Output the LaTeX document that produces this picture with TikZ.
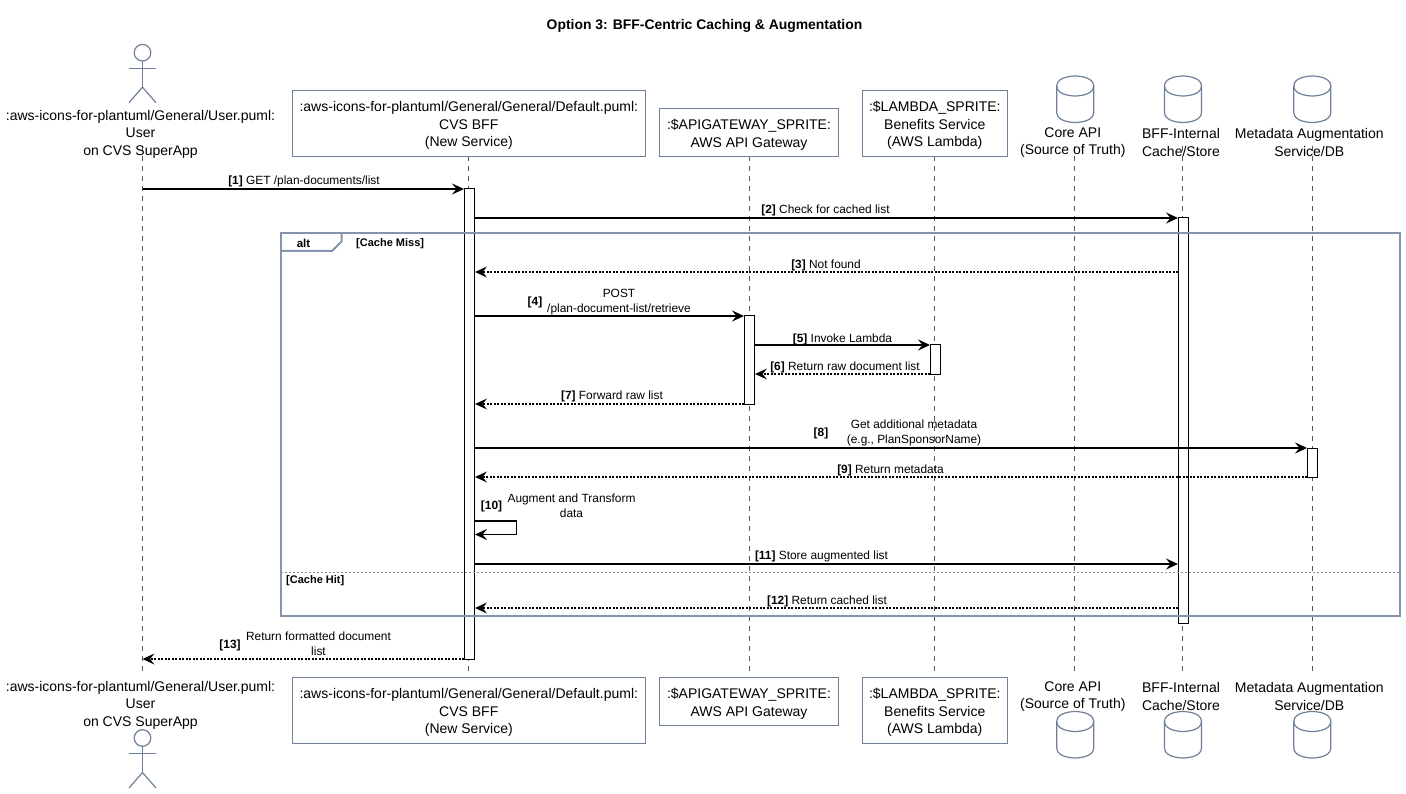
\documentclass[tikz,border=0pt]{standalone}
\usepackage{fontspec}
\setmainfont{Liberation Sans}
\usetikzlibrary{arrows.meta}
\definecolor{partline}{HTML}{6F8098}
\definecolor{frameline}{HTML}{8394AC}
\definecolor{lifeline}{HTML}{555555}
\newcommand{\actorsym}[2]{%
  \draw[iconline] (#1,#2) circle (8.3);
  \draw[iconline] (#1,#2+8.3) -- (#1,#2+34.5);
  \draw[iconline] (#1-13.5,#2+15.5) -- (#1+13.5,#2+15.5);
  \draw[iconline] (#1-13.5,#2+50) -- (#1,#2+34.5) -- (#1+13.5,#2+50);
}
\newcommand{\dbsym}[2]{%
  \draw[iconline] (#1-18.5,#2+10) .. controls (#1-18.5,#2) and (#1,#2) .. (#1,#2)
    .. controls (#1,#2) and (#1+18.5,#2) .. (#1+18.5,#2+10)
    -- (#1+18.5,#2+36.5)
    .. controls (#1+18.5,#2+46.5) and (#1,#2+46.5) .. (#1,#2+46.5)
    .. controls (#1,#2+46.5) and (#1-18.5,#2+46.5) .. (#1-18.5,#2+36.5) -- cycle;
  \draw[iconline] (#1-18.5,#2+10) .. controls (#1-18.5,#2+20) and (#1,#2+20) .. (#1,#2+20)
    .. controls (#1,#2+20) and (#1+18.5,#2+20) .. (#1+18.5,#2+10);
}
\newcommand{\seqno}[1]{\textbf{[#1]}}
\newcommand{\topgap}{\rule{0pt}{14.7pt}}
\tikzset{
  x=1pt,y=-1pt,
  iconline/.style={draw=partline,line width=1.2pt},
  partbase/.style={font=\fontsize{14}{17.5}\selectfont,align=center,inner sep=0pt,text=black},
  partlabel/.style={partbase,yshift=-1.5pt},
  partbox/.style={partbase,draw=partline,line width=1.1pt,fill=white,minimum width=#1},
  lifeln/.style={draw=lifeline,line width=0.8pt,dash pattern=on 5pt off 5pt},
  barbox/.style={draw=black,line width=1pt,fill=white,minimum width=10pt,inner sep=0pt,minimum height=#1},
  syncmsg/.style={draw=black,line width=1.9pt,-{Stealth[length=12pt,width=11pt,inset=4.5pt]}},
  retmsg/.style={draw=black,line width=1.9pt,dash pattern=on 2pt off 1.5pt,-{Stealth[length=12pt,width=11pt,inset=4.5pt,line width=0pt,sep=0pt]}},
  msglabel/.style={font=\fontsize{11.9}{15}\selectfont,align=center,inner sep=0pt,text=black,yshift=-1.8pt},
  framebox/.style={draw=frameline,line width=2pt},
  framelabel/.style={font=\fontsize{11}{13}\selectfont\bfseries,inner sep=0pt,anchor=west},
}
\begin{document}
\begin{tikzpicture}
\useasboundingbox[fill=white] (0,0) rectangle (1406,794);
\node[font=\fontsize{13.9}{16}\selectfont\bfseries,inner sep=0pt] (title) at (704.5,26) {Option 3: BFF-Centric Caching \& Augmentation};

% participant nodes (head row)
\coordinate (lnU) at (142.5,146);
\coordinate (lnF) at (468.8,146);
\coordinate (lnG) at (749,146);
\coordinate (lnL) at (934.8,146);
\coordinate (lnC) at (1074.4,146);
\coordinate (lnS) at (1182.5,146);
\coordinate (lnM) at (1312.6,146);
\coordinate (endU) at (142.5,673);
\coordinate (endF) at (468.8,673);
\coordinate (endG) at (749,673);
\coordinate (endL) at (934.8,673);
\coordinate (endC) at (1074.4,673);
\coordinate (endS) at (1182.5,673);
\coordinate (endM) at (1312.6,673);

\draw[lifeln] (lnU) -- (endU);
\draw[lifeln] (lnF) -- (endF);
\draw[lifeln] (lnG) -- (endG);
\draw[lifeln] (lnL) -- (endL);
\draw[lifeln] (lnC) -- (endC);
\draw[lifeln] (lnS) -- (endS);
\draw[lifeln] (lnM) -- (endM);

% actors and databases
\actorsym{142.5}{52.7}
\actorsym{142.5}{738}
\dbsym{1075.2}{76}
\dbsym{1183}{76}
\dbsym{1312.3}{76}
\dbsym{1075.2}{711.5}
\dbsym{1183}{711.5}
\dbsym{1312.3}{711.5}

% head labels
\node[partlabel] (uT) at (140.5,132.5) {:aws-icons-for-plantuml/General/User.puml:\\User\\on CVS SuperApp};
\node[partbox=353pt,minimum height=66pt] (fT) at (468.8,123.5) {\topgap:aws-icons-for-plantuml/General/General/Default.puml:\\CVS BFF\\(New Service)};
\node[partbox=179pt,minimum height=48pt] (gT) at (749,132.5) {\topgap:\$APIGATEWAY\_SPRITE:\\AWS API Gateway};
\node[partbox=145pt,minimum height=66pt] (lT) at (934.8,123.5) {\topgap:\$LAMBDA\_SPRITE:\\Benefits Service\\(AWS Lambda)};
\node[partlabel] (cT) at (1072.8,141) {Core API\\(Source of Truth)};
\node[partlabel] (sT) at (1181,141) {BFF-Internal\\Cache/Store};
\node[partlabel] (mT) at (1309.3,141) {Metadata Augmentation\\Service/DB};

% foot labels
\node[partlabel] (uB) at (140.5,703.5) {:aws-icons-for-plantuml/General/User.puml:\\User\\on CVS SuperApp};
\node[partbox=353pt,minimum height=66pt] (fB) at (468.8,710.5) {\topgap:aws-icons-for-plantuml/General/General/Default.puml:\\CVS BFF\\(New Service)};
\node[partbox=179pt,minimum height=48pt] (gB) at (749,701.5) {\topgap:\$APIGATEWAY\_SPRITE:\\AWS API Gateway};
\node[partbox=145pt,minimum height=66pt] (lB) at (934.8,710.5) {\topgap:\$LAMBDA\_SPRITE:\\Benefits Service\\(AWS Lambda)};
\node[partlabel] (cB) at (1072.8,695) {Core API\\(Source of Truth)};
\node[partlabel] (sB) at (1181,695) {BFF-Internal\\Cache/Store};
\node[partlabel] (mB) at (1309.3,695) {Metadata Augmentation\\Service/DB};

% activation bars
\node[barbox=470pt] (aF) at (469.5,424) {};
\node[barbox=88pt] (aG) at (749.5,360) {};
\node[barbox=29pt] (aL) at (935.5,359.5) {};
\node[barbox=405pt] (aS) at (1183.5,420.5) {};
\node[barbox=29pt] (aM) at (1312.5,462.5) {};

% messages
\draw[syncmsg] (lnU |- 0,189) -- (aF.west |- 0,189);
\draw[syncmsg] (aF.east |- 0,218) -- (aS.west |- 0,218);
\draw[retmsg] (aS.west |- 0,272) -- (aF.east |- 0,272);
\draw[syncmsg] (aF.east |- 0,316) -- (aG.west |- 0,316);
\draw[syncmsg] (aG.east |- 0,345) -- (aL.west |- 0,345);
\draw[retmsg] (aL.west |- 0,374) -- (aG.east |- 0,374);
\draw[retmsg] (aG.west |- 0,404) -- (aF.east |- 0,404);
\draw[syncmsg] (aF.east |- 0,448) -- (aM.west |- 0,448);
\draw[retmsg] (aM.west |- 0,477) -- (aF.east |- 0,477);
\coordinate (selfR) at (516.5,521);
\draw[syncmsg] (aF.east |- selfR) -- (selfR) -- (516.5,534.5) -- (aF.east |- 0,534.5);
\draw[syncmsg] (aF.east |- 0,564) -- (aS.west |- 0,564);
\draw[retmsg] (aS.west |- 0,608) -- (aF.east |- 0,608);
\draw[retmsg] (aF.west |- 0,659) -- (lnU |- 0,659);

% labels
\node[msglabel] (t1) at (304,180) {\seqno{1} GET /plan-documents/list};
\node[msglabel] (t2) at (825.5,209) {\seqno{2} Check for cached list};
\node[msglabel] (t3) at (826,264) {\seqno{3} Not found};
\node[msglabel] (t4n) at (535,301) {\seqno{4}};
\node[msglabel] (t4) at (619,300.5) {POST\\/plan-document-list/retrieve};
\node[msglabel] (t5) at (842.5,338) {\seqno{5} Invoke Lambda};
\node[msglabel] (t6) at (845,365.5) {\seqno{6} Return raw document list};
\node[msglabel] (t7) at (612,395) {\seqno{7} Forward raw list};
\node[msglabel] (t8n) at (821,432) {\seqno{8}};
\node[msglabel] (t8) at (914,431.5) {Get additional metadata\\(e.g., PlanSponsorName)};
\node[msglabel] (t9) at (890.5,469) {\seqno{9} Return metadata};
\node[msglabel] (t10n) at (491.5,505) {\seqno{10}};
\node[msglabel] (t10) at (571.5,503.5) {Augment and Transform\\data};
\node[msglabel] (t11) at (821.5,555) {\seqno{11} Store augmented list};
\node[msglabel] (t12) at (827,600) {\seqno{12} Return cached list};
\node[msglabel] (t13n) at (230,643.5) {\seqno{13}};
\node[msglabel] (t13) at (318.5,641.5) {Return formatted document\\list};

% alt frame
\draw[framebox] (280.5,233.5) rectangle (1400,616);
\draw[framebox] (280.5,251) -- (332,251) -- (341.5,241.5) -- (341.5,233.5);
\draw[draw=frameline,line width=0.8pt,dash pattern=on 2pt off 2pt] (280.5,572.5) -- (1400,572.5);
\node[font=\fontsize{11.5}{14}\selectfont\bfseries,inner sep=0pt] (altl) at (303.5,243.5) {alt};
\node[framelabel] (miss) at (356,244) {[Cache Miss]};
\node[framelabel] (hit) at (286,580.5) {[Cache Hit]};
\end{tikzpicture}
\end{document}
